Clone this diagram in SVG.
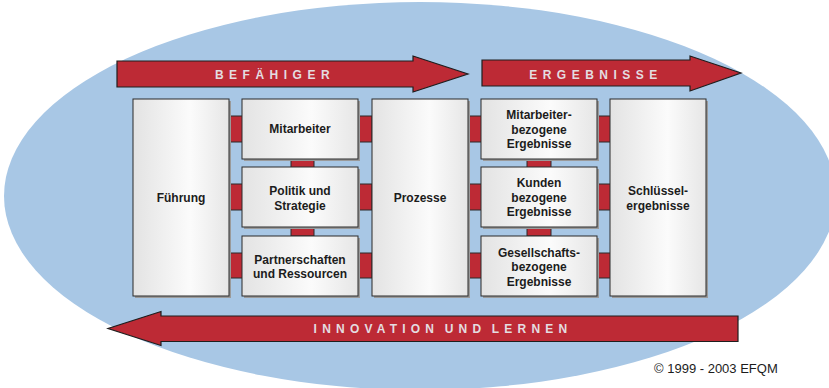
<svg xmlns="http://www.w3.org/2000/svg" width="829" height="388" viewBox="0 0 829 388">
<defs>
<linearGradient id="boxfill" x1="0" y1="0" x2="1" y2="0">
<stop offset="0" stop-color="#e3e3e3"/>
<stop offset="0.6" stop-color="#fbfbfb"/>
<stop offset="1" stop-color="#e6e6e6"/>
</linearGradient>
</defs>
<style>
.box{fill:url(#boxfill);stroke:#2b2b2b;stroke-width:1}
.shadow{fill:#9a9a9a}
.conn{fill:#bd2a35;stroke:#2b2b2b;stroke-width:1}
.arrow{fill:#bd2a35;stroke:#1e1e1e;stroke-width:1.2}
.lbl{font-family:"Liberation Sans",Arial,sans-serif;font-weight:bold;font-size:12px;fill:#1c1c1c;text-anchor:middle}
.band{font-family:"Liberation Sans",Arial,sans-serif;font-weight:bold;font-size:12px;fill:#e4dde0;letter-spacing:5.5px;text-anchor:middle}
.copy{font-family:"Liberation Sans",Arial,sans-serif;font-size:13px;fill:#1c1c1c}
</style>
<ellipse cx="420" cy="196" rx="416" ry="194" fill="#a8c7e5"/>

<g id="connectors">
<rect class="conn" x="228" y="116" width="15" height="26"/>
<rect class="conn" x="228" y="184" width="15" height="26"/>
<rect class="conn" x="228" y="253" width="15" height="25"/>
<rect class="conn" x="357" y="116" width="15" height="26"/>
<rect class="conn" x="357" y="184" width="15" height="26"/>
<rect class="conn" x="357" y="253" width="15" height="25"/>
<rect class="conn" x="291" y="158" width="23" height="10"/>
<rect class="conn" x="291" y="226" width="23" height="10"/>
<rect class="conn" x="467" y="116" width="15" height="26"/>
<rect class="conn" x="467" y="184" width="15" height="26"/>
<rect class="conn" x="467" y="253" width="15" height="25"/>
<rect class="conn" x="596" y="116" width="15" height="26"/>
<rect class="conn" x="596" y="184" width="15" height="26"/>
<rect class="conn" x="596" y="253" width="15" height="25"/>
<rect class="conn" x="527" y="158" width="24" height="10"/>
<rect class="conn" x="527" y="226" width="24" height="10"/>
</g>

<g id="arrow-befaehiger">
<path class="arrow" d="M117,61 H413 V56 L468,74 L413,92 V87 H117 Z"/>
<text class="band" x="275" y="79">BEFÄHIGER</text>
</g>
<g id="arrow-ergebnisse">
<path class="arrow" d="M482,60 H690 V56 L741,73 L690,91 V86 H482 Z"/>
<text class="band" x="596" y="79">ERGEBNISSE</text>
</g>
<g id="arrow-innovation">
<path class="arrow" d="M738,316 H161 V311.5 L108,328.5 L161,345.5 V341.5 H738 Z"/>
<text class="band" x="443" y="333" style="letter-spacing:5.2px;word-spacing:-3px">INNOVATION UND LERNEN</text>
</g>

<g id="fuehrung">
<rect class="shadow" x="135" y="101" width="96" height="197"/>
<rect class="box" x="133" y="99" width="96" height="197"/>
<text class="lbl" x="181" y="202">Führung</text>
</g>
<g id="mitarbeiter">
<rect class="shadow" x="244" y="101" width="116" height="60"/>
<rect class="box" x="242" y="99" width="116" height="60"/>
<text class="lbl" x="300" y="133">Mitarbeiter</text>
</g>
<g id="politik">
<rect class="shadow" x="244" y="169" width="116" height="60"/>
<rect class="box" x="242" y="167" width="116" height="60"/>
<text class="lbl" x="300" y="195">Politik und</text>
<text class="lbl" x="300" y="209.5">Strategie</text>
</g>
<g id="partnerschaften">
<rect class="shadow" x="244" y="238" width="116" height="60"/>
<rect class="box" x="242" y="236" width="116" height="60"/>
<text class="lbl" x="300" y="263.5">Partnerschaften</text>
<text class="lbl" x="300" y="278">und Ressourcen</text>
</g>
<g id="prozesse">
<rect class="shadow" x="374" y="101" width="96" height="197"/>
<rect class="box" x="372" y="99" width="96" height="197"/>
<text class="lbl" x="420" y="202">Prozesse</text>
</g>
<g id="mitarbeiter-ergebnisse">
<rect class="shadow" x="483" y="101" width="116" height="60"/>
<rect class="box" x="481" y="99" width="116" height="60"/>
<text class="lbl" x="539" y="119">Mitarbeiter-</text>
<text class="lbl" x="539" y="133.5">bezogene</text>
<text class="lbl" x="539" y="148">Ergebnisse</text>
</g>
<g id="kunden-ergebnisse">
<rect class="shadow" x="483" y="169" width="116" height="60"/>
<rect class="box" x="481" y="167" width="116" height="60"/>
<text class="lbl" x="539" y="187">Kunden</text>
<text class="lbl" x="539" y="201.5">bezogene</text>
<text class="lbl" x="539" y="216">Ergebnisse</text>
</g>
<g id="gesellschaft-ergebnisse">
<rect class="shadow" x="483" y="238" width="116" height="60"/>
<rect class="box" x="481" y="236" width="116" height="60"/>
<text class="lbl" x="539" y="256.5">Gesellschafts-</text>
<text class="lbl" x="539" y="271">bezogene</text>
<text class="lbl" x="539" y="285.5">Ergebnisse</text>
</g>
<g id="schluesselergebnisse">
<rect class="shadow" x="612" y="101" width="96" height="197"/>
<rect class="box" x="610" y="99" width="96" height="197"/>
<text class="lbl" x="658" y="195">Schlüssel-</text>
<text class="lbl" x="658" y="209.5">ergebnisse</text>
</g>

<text class="copy" x="654" y="373">© 1999 - 2003 EFQM</text>
</svg>
